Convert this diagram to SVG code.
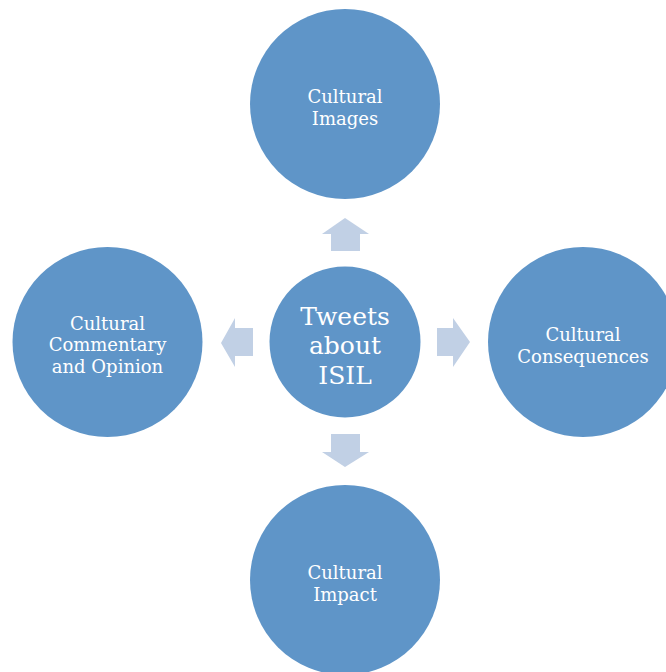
<svg xmlns="http://www.w3.org/2000/svg" width="666" height="672" viewBox="0 0 666 672">
<style>
.c{fill:#5f95c8}
.a{fill:#c1d0e5}
.t{fill:#fff;font-family:"DejaVu Serif","Liberation Serif",serif;font-size:18px;text-anchor:middle}
.big{font-size:25px}
</style>
<rect width="666" height="672" fill="#fff"/>
<g id="connectors">
<polygon class="a" points="331,251 331,234 322,234 345,218 369,234 360,234 360,251"/>
<polygon class="a" points="253,328 235,328 235,318 221,343 235,367 235,356 253,356"/>
<polygon class="a" points="437,328 453,328 453,318 470,342 453,367 453,356 437,356"/>
<polygon class="a" points="331,434 360,434 360,452 369,452 345,467 322,452 331,452"/>
</g>
<g id="center">
<circle class="c" cx="345" cy="342" r="75.5"/>
<text class="t big" x="345" y="325">Tweets</text>
<text class="t big" x="345" y="354">about</text>
<text class="t big" x="345" y="384">ISIL</text>
</g>
<g id="top">
<circle class="c" cx="345" cy="104" r="95"/>
<text class="t" x="345" y="103">Cultural</text>
<text class="t" x="345" y="125">Images</text>
</g>
<g id="left">
<circle class="c" cx="107.5" cy="342" r="95"/>
<text class="t" x="107.5" y="330">Cultural</text>
<text class="t" x="107.5" y="351">Commentary</text>
<text class="t" x="107.5" y="373">and Opinion</text>
</g>
<g id="right">
<circle class="c" cx="583" cy="342" r="95"/>
<text class="t" x="583" y="341">Cultural</text>
<text class="t" x="583" y="363">Consequences</text>
</g>
<g id="bottom">
<circle class="c" cx="345" cy="580" r="95"/>
<text class="t" x="345" y="579">Cultural</text>
<text class="t" x="345" y="601">Impact</text>
</g>
</svg>
